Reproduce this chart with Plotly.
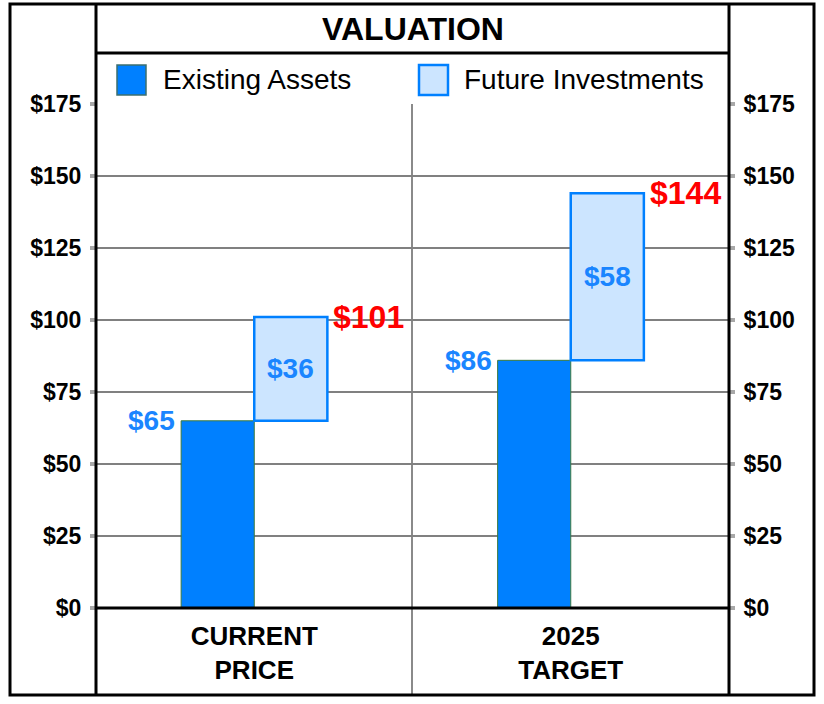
import plotly.graph_objects as go

# ---------------- data ----------------
categories = ["CURRENT<br>PRICE", "2025<br>TARGET"]
existing_assets = [65, 86]
future_investments = [36, 58]
totals = [101, 144]
series_names = ["Existing Assets", "Future Investments"]
y_ticks = [0, 25, 50, 75, 100, 125, 150, 175]
y_tick_labels = ["$0", "$25", "$50", "$75", "$100", "$125", "$150", "$175"]
title_text = "VALUATION"

# ---------------- styling ----------------
W, H = 824, 704
L, T, PW, PH = 96, 104, 633, 504   # plot area in pixels
FONT = "Liberation Sans, Arial, Helvetica, sans-serif"
BLUE = "#0080FF"
LIGHT = "#CCE5FF"
TXT_BLUE = "#1A85FF"
RED = "#FF0000"
BAR_W = 0.231


def px(x):
    return (x - L) / PW


def py(y):
    return (T + PH - y) / PH


fig = go.Figure()
idx = list(range(len(categories)))

fig.add_trace(go.Bar(
    x=idx, y=existing_assets, name=series_names[0],
    width=BAR_W, offset=-BAR_W,
    marker=dict(color=BLUE, line=dict(color="#3d7a3d", width=1)),
    showlegend=False, hoverinfo="skip",
))
fig.add_trace(go.Bar(
    x=idx, y=future_investments, base=existing_assets, name=series_names[1],
    width=BAR_W, offset=0,
    marker=dict(color=LIGHT, line=dict(color=BLUE, width=2.5)),
    showlegend=False, hoverinfo="skip",
))
# invisible trace so the right-hand axis is drawn
fig.add_trace(go.Scatter(x=idx, y=totals, yaxis="y2", mode="markers",
                         marker=dict(opacity=0), showlegend=False, hoverinfo="skip"))

annotations = []
for i in idx:
    e, f, t = existing_assets[i], future_investments[i], totals[i]
    annotations.append(dict(x=i - BAR_W, y=e, xref="x", yref="y", text=f"<b>${e}</b>",
                            showarrow=False, xanchor="right", yanchor="middle", xshift=-4,
                            font=dict(family=FONT, size=28, color=TXT_BLUE)))
    annotations.append(dict(x=i + BAR_W / 2, y=e + f / 2, xref="x", yref="y", text=f"<b>${f}</b>",
                            showarrow=False, xanchor="center", yanchor="middle",
                            font=dict(family=FONT, size=28, color=TXT_BLUE)))
    annotations.append(dict(x=i + BAR_W, y=t, xref="x", yref="y", text=f"<b>${t}</b>",
                            showarrow=False, xanchor="left", yanchor="middle", xshift=4,
                            font=dict(family=FONT, size=32, color=RED)))

annotations.append(dict(x=px(412.5), y=py(29), xref="paper", yref="paper", text=f"<b>{title_text}</b>",
                        showarrow=False, xanchor="center", yanchor="middle",
                        font=dict(family=FONT, size=32, color="black")))
annotations.append(dict(x=px(161), y=py(80), xref="paper", yref="paper", text=series_names[0],
                        showarrow=False, xanchor="left", yanchor="middle",
                        font=dict(family=FONT, size=28, color="black")))
annotations.append(dict(x=px(462), y=py(80), xref="paper", yref="paper", text=series_names[1],
                        showarrow=False, xanchor="left", yanchor="middle",
                        font=dict(family=FONT, size=28, color="black")))


def line(x0, y0, x1, y1, color="black", width=3, layer="above"):
    return dict(type="line", xref="paper", yref="paper", x0=px(x0), y0=py(y0), x1=px(x1), y1=py(y1),
                line=dict(color=color, width=width), layer=layer)


shapes = [
    # middle separator
    line(412, 104, 412, 695, color="#8a8a8a", width=2, layer="below"),
    # zero baseline
    line(96, 608, 729, 608, width=3),
    # title separator
    line(96, 53, 729, 53, width=3),
    # vertical frame lines
    line(96, 4, 96, 695, width=3),
    line(729, 4, 729, 695, width=3),
    # outer border
    dict(type="rect", xref="paper", yref="paper", x0=px(10), y0=py(4), x1=px(814), y1=py(695),
         line=dict(color="black", width=3), fillcolor="rgba(0,0,0,0)", layer="above"),
    # legend swatches
    dict(type="rect", xref="paper", yref="paper", x0=px(117), y0=py(65), x1=px(146), y1=py(95),
         line=dict(color="#3d6f6f", width=1.5), fillcolor=BLUE),
    dict(type="rect", xref="paper", yref="paper", x0=px(419), y0=py(65), x1=px(448), y1=py(95),
         line=dict(color=BLUE, width=2.5), fillcolor=LIGHT),
]

yax = dict(range=[0, 175], tickvals=y_ticks, ticktext=y_tick_labels,
           showgrid=True, gridcolor="#808080", gridwidth=1.5, zeroline=False,
           ticks="outside", ticklen=5, tickwidth=4, tickcolor="#a8a8a8",
           ticklabelstandoff=4,
           tickfont=dict(family=FONT, size=23, color="black", weight="bold"),
           fixedrange=True, showline=False)

fig.update_layout(
    width=W, height=H,
    margin=dict(l=L, r=W - L - PW, t=T, b=H - T - PH, pad=0),
    paper_bgcolor="white", plot_bgcolor="white",
    barmode="overlay",
    xaxis=dict(range=[-0.5, 1.5], tickvals=idx, ticktext=categories,
               showgrid=False, zeroline=False, showline=False, ticks="",
               ticklabelstandoff=10, fixedrange=True,
               tickfont=dict(family=FONT, size=26, color="black", weight="bold")),
    yaxis=yax,
    yaxis2=dict(yax, overlaying="y", side="right", showgrid=False),
    annotations=annotations,
    shapes=shapes,
    showlegend=False,
    hovermode=False,
)

fig.write_html("out.html", config={"displayModeBar": False},
               post_script="document.body.style.margin='0px';")
